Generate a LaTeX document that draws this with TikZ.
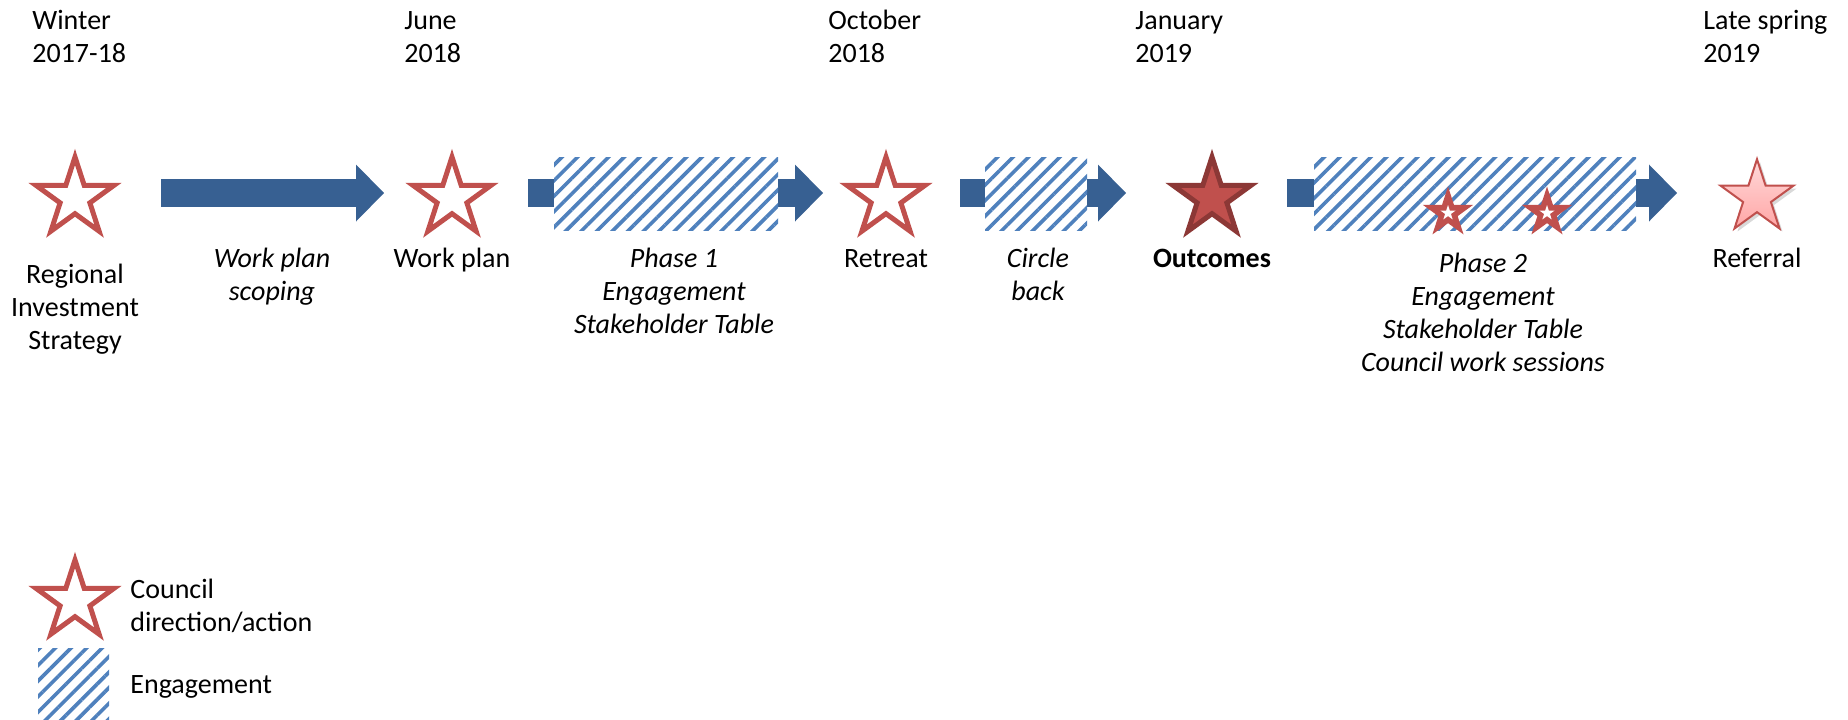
\documentclass[tikz,border=0pt]{standalone}
\usepackage{fontspec}
\setmainfont{Carlito}
\usepackage{xcolor}
\usepackage{tikz}
\usetikzlibrary{arrows.meta}
\usetikzlibrary{shapes.geometric,patterns.meta,shadows}

\definecolor{arrowblue}{HTML}{376092}
\definecolor{hatchblue}{HTML}{4F81BD}
\definecolor{starred}{HTML}{C0504D}
\definecolor{stardark}{HTML}{8C3836}
\definecolor{pinktop}{HTML}{FFD9D9}
\definecolor{pinkbot}{HTML}{FFA6A6}
\newcommand{\lblsize}{\fontsize{14}{16.5}\selectfont}

\tikzset{
	starfive/.style = {star, star points=5, star point ratio=2.618, inner sep=0pt, minimum size=#1, line join=miter},
	councilstar/.style = {starfive=41pt, draw=starred, line width=2.5pt, fill=white},
	blockarrow/.style = {draw=arrowblue, line width=14pt, -{Triangle[length=14pt, width=28.5pt, line width=0pt]}},
	hatchbox/.style = {rectangle, inner sep=0pt, preaction={fill=white}, pattern={Lines[angle=45, distance=5.5pt, line width=1.8pt]}, pattern color=hatchblue},
	lbl/.style = {align=center, inner sep=0pt, anchor=base},
	datelbl/.style = {align=left, inner sep=0pt, anchor=base west}
}

\begin{document}
\begin{tikzpicture}[x=0.5pt, y=-0.5pt, every node/.style={font=\lblsize}]
	\useasboundingbox (0,0) rectangle (1848,719);
	
	% dates (anchor is the last line)
	\node[datelbl] (dWinter) at (32,62) {Winter\\2017-18};
	\node[datelbl] (dJune) at (404,62) {June\\2018};
	\node[datelbl] (dOctober) at (828,62) {October\\2018};
	\node[datelbl] (dJanuary) at (1135,62) {January\\2019};
	\node[datelbl] (dSpring) at (1703,62) {Late spring\\2019};
	
	% block arrows
	\coordinate (aOneS) at (161,193);
	\coordinate (aOneE) at (384,193);
	\coordinate (aTwoS) at (528,193);
	\coordinate (aTwoE) at (823,193);
	\coordinate (aThreeS) at (960,193);
	\coordinate (aThreeE) at (1126,193);
	\coordinate (aFourS) at (1287,193);
	\coordinate (aFourE) at (1677,193);
	\draw[blockarrow] (aOneS) -- (aOneE);
	\draw[blockarrow] (aTwoS) -- (aTwoE);
	\draw[blockarrow] (aThreeS) -- (aThreeE);
	\draw[blockarrow] (aFourS) -- (aFourE);
	
	% engagement
	\node[hatchbox, minimum width=112pt, minimum height=36.5pt] (phOne) at (666,193.5) {};
	\node[hatchbox, minimum width=51pt, minimum height=36.5pt] (circBack) at (1036,193.5) {};
	\node[hatchbox, minimum width=161pt, minimum height=36.5pt] (phTwo) at (1475,193.5) {};
	
	% council stars
	\node[councilstar] (stRegional) at (75,198) {};
	\node[councilstar] (stWorkplan) at (452,198) {};
	\node[councilstar] (stRetreat) at (886,198) {};
	\node[starfive=41pt, draw=stardark, line width=2.5pt, fill=starred] (stOutcomes) at (1212,198) {};
	\node[starfive=38.3pt, draw=starred, line width=1pt, top color=pinktop, bottom color=pinkbot,
		drop shadow={shadow xshift=1.5pt, shadow yshift=-1.5pt, opacity=0.3}] (stReferral) at (1757,197.5) {};
	\node[starfive=26.5pt, fill=starred] (stSesA) at (1448,213) {};
	\node[starfive=8pt, fill=white] at (stSesA) {};
	\node[starfive=26.5pt, fill=starred] (stSesB) at (1547,213) {};
	\node[starfive=8pt, fill=white] at (stSesB) {};
	
	% labels
	\node[lbl] (tRegional) at (75,349) {Regional\\Investment\\Strategy};
	\node[lbl, font=\lblsize\itshape] (tScoping) at (272,300) {Work plan\\scoping};
	\node[lbl] (tWorkplan) at (452,267) {Work plan};
	\node[lbl, font=\lblsize\itshape] (tPhOne) at (674,333) {Phase 1\\Engagement\\Stakeholder Table};
	\node[lbl] (tRetreat) at (886,267) {Retreat};
	\node[lbl, font=\lblsize\itshape] (tCircle) at (1038,300) {Circle\\back};
	\node[lbl, font=\lblsize\bfseries] (tOutcomes) at (1212,267) {Outcomes};
	\node[lbl, font=\lblsize\itshape] (tPhTwo) at (1483,371) {Phase 2\\Engagement\\Stakeholder Table\\Council work sessions};
	\node[lbl] (tReferral) at (1757,267) {Referral};
	
	% legend
	\node[councilstar] (lgStar) at (75,601) {};
	\node[datelbl] (lgStarTxt) at (130,631) {Council\\direction/action};
	\node[hatchbox, minimum width=35.5pt, minimum height=35.5pt] (lgHatch) at (73.5,683.5) {};
	\node[datelbl] (lgHatchTxt) at (130,693) {Engagement};
\end{tikzpicture}
\end{document}
